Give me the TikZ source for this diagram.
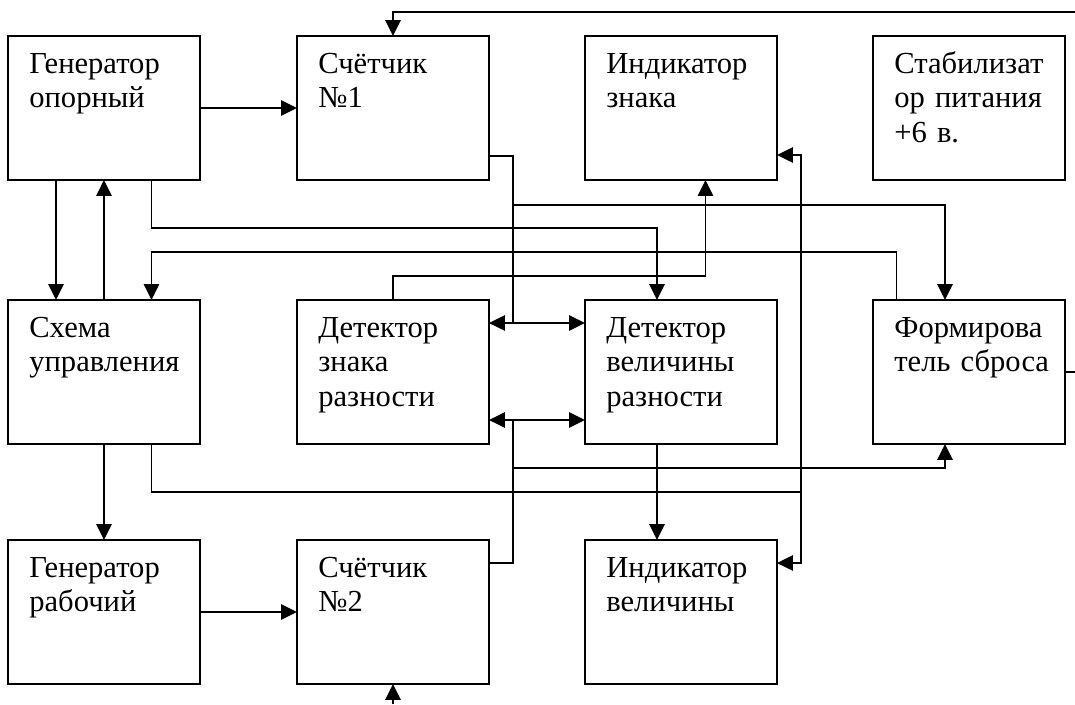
\documentclass[tikz,border=0pt]{standalone}
\usepackage{fontspec}
\setmainfont{Liberation Serif}
\usetikzlibrary{arrows.meta,calc}

\begin{document}
\begin{tikzpicture}[x=0.02cm,y=-0.02cm,
    >={Triangle[length=3.2mm,width=3.1mm]},
    blk/.style={draw,line width=1.1pt,anchor=north west,minimum width=3.84cm,minimum height=2.88cm,inner sep=0pt,outer sep=0pt},
    txt/.style={anchor=base west,align=left,text width=3.6cm,inner sep=0pt,font=\fontsize{17.4}{19.8}\selectfont},
    wire/.style={line width=0.9pt},
]
\useasboundingbox (0,0) rectangle (1075,704);

% ================= blocks, three rows =================
\node[blk] (genop)  at (8,36)   {};
\node[blk] (cnt1)   at (297,36) {};
\node[blk] (indzn)  at (585,36) {};
\node[blk] (stab)   at (873,36) {};
\node[blk] (ctrl)   at (8,300)   {};
\node[blk] (detzn)  at (297,300) {};
\node[blk] (detvel) at (585,300) {};
\node[blk] (reset)  at (873,300) {};
\node[blk] (genrab) at (8,540)   {};
\node[blk] (cnt2)   at (297,540) {};
\node[blk] (indvel) at (585,540) {};

\node[txt] (genopT)  at ($(genop.north west)+(21,37)$)  {Генератор\\опорный};
\node[txt] (cnt1T)   at ($(cnt1.north west)+(21,37)$)   {Счётчик\\№1};
\node[txt] (indznT)  at ($(indzn.north west)+(21,37)$)  {Индикатор\\знака};
\node[txt] (stabT)   at ($(stab.north west)+(21,37)$)   {Стабилизат\\ор питания\\+6 в.};
\node[txt] (ctrlT)   at ($(ctrl.north west)+(21,37)$)   {Схема\\управления};
\node[txt] (detznT)  at ($(detzn.north west)+(21,37)$)  {Детектор\\знака\\разности};
\node[txt] (detvelT) at ($(detvel.north west)+(21,37)$) {Детектор\\величины\\разности};
\node[txt] (resetT)  at ($(reset.north west)+(21,37)$)  {Формирова\\тель сброса};
\node[txt] (genrabT) at ($(genrab.north west)+(21,37)$) {Генератор\\рабочий};
\node[txt] (cnt2T)   at ($(cnt2.north west)+(21,37)$)   {Счётчик\\№2};
\node[txt] (indvelT) at ($(indvel.north west)+(21,37)$) {Индикатор\\величины};

% ================= buses, levels and picture edges =================
\coordinate (busL) at (513,0);
\coordinate (busR) at (801,0);
\coordinate (edgeR) at (1075,0);
\coordinate (edgeT) at (0,12);
\coordinate (edgeB) at (0,704);
\coordinate (lvA) at (0,205);
\coordinate (lvB) at (0,228);
\coordinate (lvC) at (0,252);
\coordinate (lvD) at (0,276);
\coordinate (lvE) at (0,468);
\coordinate (lvF) at (0,492);

\coordinate (g1)   at ($(genop.south west)+(48,0)$);
\coordinate (g3)   at ($(genop.south west)+(143.5,0)$);
\coordinate (c3)   at ($(ctrl.north west)+(143.5,0)$);
\coordinate (c3b)  at ($(ctrl.south west)+(143.5,0)$);
\coordinate (dvIn) at ($(detvel.north west)+(72,0)$);
\coordinate (dvOut) at ($(detvel.south west)+(72,0)$);
\coordinate (izIn) at ($(indzn.south west)+(120.5,0)$);
\coordinate (iz2)  at ($(indzn.north east)+(0,119)$);
\coordinate (iv2)  at ($(indvel.north east)+(0,23)$);
\coordinate (r1)   at ($(reset.north west)+(23.6,0)$);
\coordinate (rsIn) at ($(reset.north west)+(72,0)$);
\coordinate (rsIn2) at ($(reset.south west)+(72,0)$);
\coordinate (c1o)  at ($(cnt1.north east)+(0,120)$);
\coordinate (c2o)  at ($(cnt2.north east)+(0,23)$);
\coordinate (dz1)  at ($(detzn.north east)+(0,23)$);
\coordinate (dz2)  at ($(detzn.north east)+(0,120)$);

% ================= connectors =================
\draw[wire,->] (edgeR |- edgeT) -- (cnt1.north |- edgeT) -- (cnt1.north);
\draw[wire,->] (genop.east) -- (cnt1.west);
\draw[wire,->] (genrab.east) -- (cnt2.west);
\draw[wire,->] (g1) -- (g1 |- ctrl.north);
\draw[wire,->] (ctrl.north) -- (genop.south);
\draw[wire,->] (ctrl.south) -- (genrab.north);
\draw[wire,->] (g3) -- (g3 |- lvB) -| (dvIn);
\draw[wire,->] (r1) -- (r1 |- lvC) -| (c3);
\draw[wire,->] (detzn.north) -- (detzn.north |- lvD) -| (izIn);

% counter 1 to both detectors and to the reset former
\draw[wire] (c1o) -- (c1o -| busL) -- (busL |- dz1);
\draw[wire,<->] (dz1) -- (dz1 -| detvel.west);
\draw[wire,->] (busL |- lvA) -| (rsIn);

% counter 2 to both detectors and to the reset former
\draw[wire] (c2o) -- (c2o -| busL) -- (busL |- dz2);
\draw[wire,<->] (dz2) -- (dz2 -| detvel.west);
\draw[wire,->] (busL |- lvE) -| (rsIn2);

% control to both indicators
\draw[wire] (c3b) -- (c3b |- lvF) -- (busR |- lvF);
\draw[wire,<->] (iz2) -- (iz2 -| busR) -- (busR |- iv2) -- (iv2);
\draw[wire,->] (dvOut) -- (dvOut |- indvel.north);

\draw[wire,->] (cnt2.south |- edgeB) -- (cnt2.south);
\draw[wire] (reset.east) -- (reset.east -| edgeR);

\end{tikzpicture}
\end{document}
